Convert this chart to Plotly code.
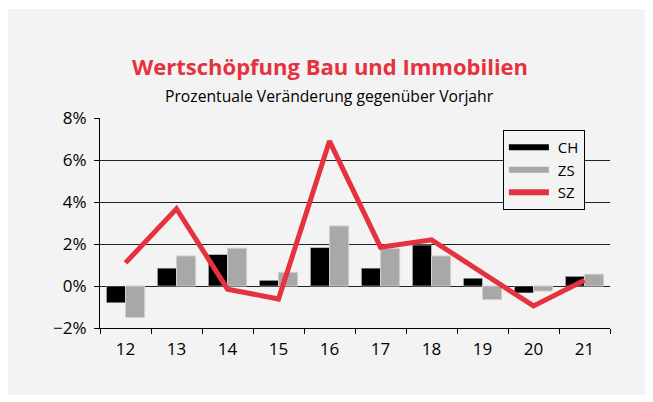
import plotly.graph_objects as go

# Wertschöpfung Bau und Immobilien, Veränderung gegenüber Vorjahr in %
jahre = ['12', '13', '14', '15', '16', '17', '18', '19', '20', '21']
ch = [-0.8, 0.85, 1.5, 0.27, 1.83, 0.85, 1.95, 0.37, -0.33, 0.46]
zs = [-1.5, 1.43, 1.8, 0.65, 2.86, 1.78, 1.43, -0.65, -0.24, 0.56]
sz = [1.1, 3.68, -0.15, -0.62, 6.9, 1.85, 2.2, 0.62, -0.95, 0.27]
y_ticks = [-2, 0, 2, 4, 6, 8]
y_labels = ['−2%', '0%', '2%', '4%', '6%', '8%']

rot = '#e5323f'
grau = '#a9a8a6'
bg = '#f3f3f3'
schrift = 'Open Sans, Noto Sans, sans-serif'

fig = go.Figure()
fig.add_trace(go.Bar(x=jahre, y=ch, name='CH', marker_color='black', showlegend=False))
fig.add_trace(go.Bar(x=jahre, y=zs, name='ZS', marker_color=grau,
                     marker_line=dict(color='#cfcfcf', width=1), showlegend=False))
fig.add_trace(go.Scatter(x=jahre, y=sz, name='SZ', mode='lines',
                         line=dict(color=rot, width=5), showlegend=False))

# Legende mit Linien-Symbolen
for name, farbe in [('CH', 'black'), ('ZS', grau), ('SZ', rot)]:
    fig.add_trace(go.Scatter(x=[None], y=[None], name=' ' + name, mode='lines',
                             line=dict(color=farbe, width=6)))

# grauer Hintergrund-Rahmen (Seite hat 8px Rand)
fig.add_shape(type='rect', xref='paper', yref='paper', layer='below',
              x0=-0.1804, x1=1.0745, y0=-0.319, y1=1.519,
              fillcolor=bg, line_width=0)

fig.add_annotation(text='<b>Wertschöpfung Bau und Immobilien</b>', xref='paper', yref='paper',
                   x=0.45, y=(320 - 58) / 210, yanchor='middle', showarrow=False,
                   font=dict(family=schrift, size=22, color=rot))
fig.add_annotation(text='Prozentuale Veränderung gegenüber Vorjahr', xref='paper', yref='paper',
                   x=0.45, y=(320 - 88) / 210, yanchor='middle', showarrow=False,
                   font=dict(family=schrift, size=15.7, color='black'))

fig.update_layout(
    width=645, height=394,
    margin=dict(l=92, r=43, t=110, b=74),
    paper_bgcolor='white', plot_bgcolor='rgba(0,0,0,0)',
    barmode='group', bargap=0.25, bargroupgap=0,
    font=dict(family=schrift, size=17, color='black'),
    legend=dict(x=0.79, y=0.943, xanchor='left', yanchor='top',
                bgcolor=bg, bordercolor='black', borderwidth=1,
                font=dict(size=15), itemwidth=40, tracegroupgap=0),
)
fig.update_xaxes(type='category', showline=True, linecolor='black', linewidth=1,
                 ticks='outside', tickson='boundaries', ticklen=5, tickcolor='black',
                 ticklabelstandoff=6, showgrid=False)
fig.update_yaxes(range=[-2, 8], tickvals=y_ticks, ticktext=y_labels,
                 showline=True, linecolor='black', linewidth=1,
                 ticks='outside', ticklen=5, tickcolor='black', ticklabelstandoff=4,
                 showgrid=True, gridcolor='#222', gridwidth=1, zeroline=False)

fig.write_html("out.html")
